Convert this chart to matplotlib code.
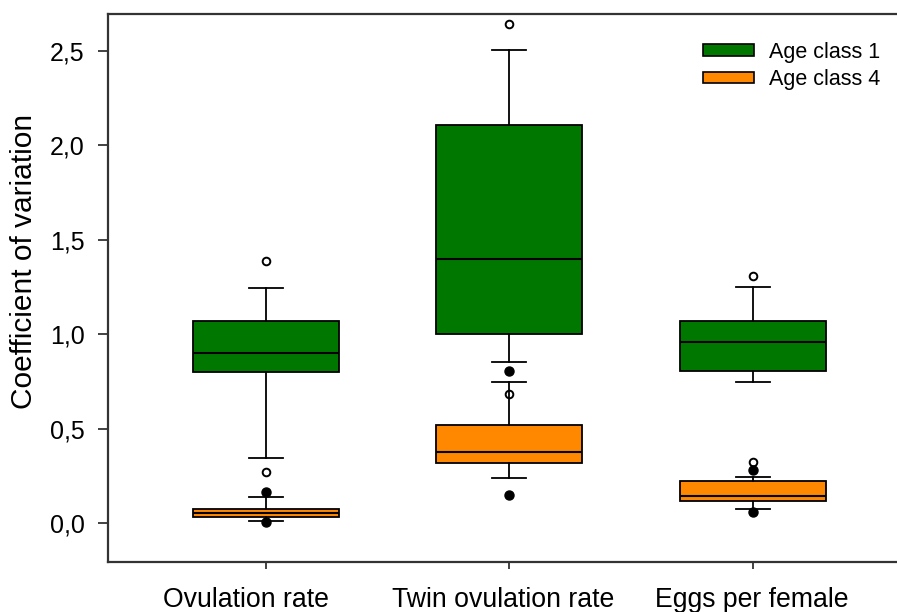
import matplotlib.pyplot as plt
from matplotlib.patches import Patch
from matplotlib.transforms import ScaledTranslation

plt.rcParams['font.family'] = ['Liberation Sans', 'DejaVu Sans']

categories = ['Ovulation rate', 'Twin ovulation rate', 'Eggs per female']

# Age class 1 (green)
a1_whislo = [0.345, 0.853, 0.747]
a1_q1 = [0.803, 1.003, 0.808]
a1_med = [0.900, 1.400, 0.960]
a1_q3 = [1.071, 2.107, 1.073]
a1_whishi = [1.248, 2.505, 1.250]
a1_fliers = [[1.389, 0.274], [2.641, 0.687], [1.311, 0.324]]

# Age class 4 (orange)
a4_whislo = [0.012, 0.242, 0.077]
a4_q1 = [0.033, 0.320, 0.117]
a4_med = [0.057, 0.377, 0.146]
a4_q3 = [0.078, 0.520, 0.223]
a4_whishi = [0.140, 0.750, 0.246]
a4_fliers = [[0.165, 0.005], [0.808, 0.149], [0.283, 0.059]]

yticks = [0.0, 0.5, 1.0, 1.5, 2.0, 2.5]
ytick_labels = ['0,0', '0,5', '1,0', '1,5', '2,0', '2,5']

green = '#007800'
orange = '#ff8800'


def make_stats(lo, q1, med, q3, hi, fl):
    return [dict(whislo=lo[i], q1=q1[i], med=med[i], q3=q3[i], whishi=hi[i],
                 fliers=fl[i]) for i in range(len(lo))]


fig = plt.figure(figsize=(8.97, 6.12), dpi=100)
ax = fig.add_axes([108 / 897, 50 / 612, (900 - 108) / 897, (562 - 14) / 612])

pos = [1, 2, 3]
for stats, col, fprops in [
    (make_stats(a1_whislo, a1_q1, a1_med, a1_q3, a1_whishi, a1_fliers), green,
     dict(marker='o', markerfacecolor='white', markeredgecolor='black', markersize=5.5, markeredgewidth=1.4)),
    (make_stats(a4_whislo, a4_q1, a4_med, a4_q3, a4_whishi, a4_fliers), orange,
     dict(marker='o', markerfacecolor='black', markeredgecolor='black', markersize=6.5)),
]:
    ax.bxp(stats, positions=pos, widths=0.6, capwidths=0.14, patch_artist=True,
           boxprops=dict(facecolor=col, edgecolor='black', linewidth=1.3),
           medianprops=dict(color='black', linewidth=1.5),
           whiskerprops=dict(color='black', linewidth=1.3),
           capprops=dict(color='black', linewidth=1.3),
           flierprops=fprops)

ax.set_xlim(0.3506, 3.605)
ax.set_ylim(-0.205, 2.696)
ax.set_yticks(yticks)
ax.set_yticklabels(ytick_labels)
ax.set_xticks(pos)
ax.set_xticklabels(categories, fontsize=19.2)
ax.tick_params(axis='y', labelsize=18, length=7, width=1.3, color='#333333', pad=10)
ax.tick_params(axis='x', length=5, width=1.3, color='#333333', pad=13)
for sp in ax.spines.values():
    sp.set_linewidth(1.6)
    sp.set_color('#333333')

# x labels in the original sit slightly off their ticks
for lab, dx in zip(ax.get_xticklabels(), [-20, -6, -1]):
    lab.set_transform(lab.get_transform() + ScaledTranslation(dx / 100, 0, fig.dpi_scale_trans))

ax.set_ylabel('Coefficient of variation', fontsize=21.5)
ax.yaxis.set_label_coords(-0.089, 0.549)

handles = [Patch(facecolor=green, edgecolor='black', linewidth=1.2, label='Age class 1'),
           Patch(facecolor=orange, edgecolor='black', linewidth=1.2, label='Age class 4')]
ax.legend(handles=handles, loc='upper right', bbox_to_anchor=(1.0, 0.985),
          frameon=False, fontsize=15.5, handlelength=2.4, handleheight=0.45,
          handletextpad=0.7, labelspacing=0.3)

fig.savefig('out.png', dpi=100)
